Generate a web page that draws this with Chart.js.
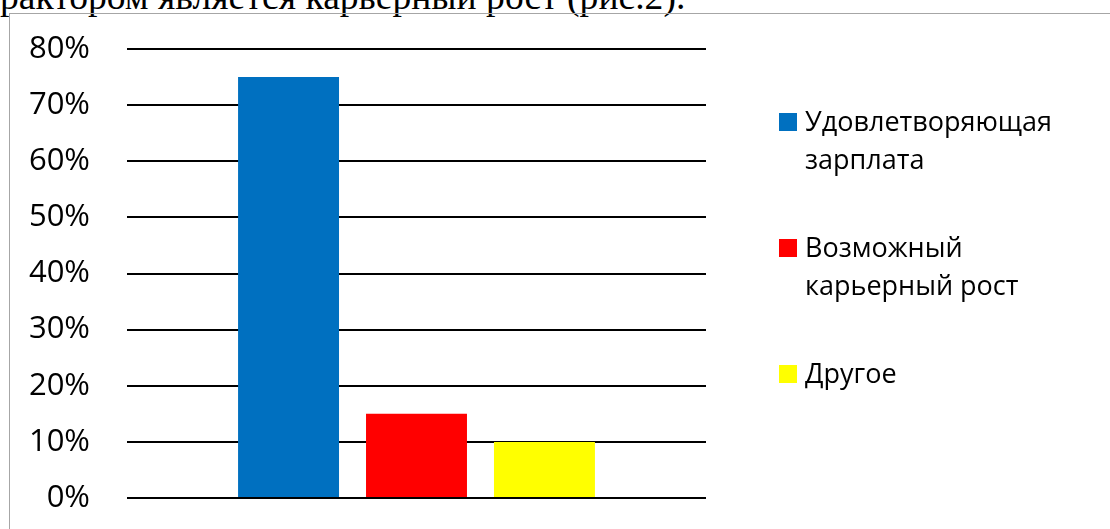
<!DOCTYPE html>
<html>
<head>
<meta charset="utf-8">
<script src="https://cdn.jsdelivr.net/npm/chart.js@4.4.1/dist/chart.umd.min.js"></script>
<style>
  html, body { margin: 0; padding: 0; background: #fff; width: 1110px; height: 529px; overflow: hidden; }
  #caption { position: absolute; left: 0px; top: -22px; font-family: "Liberation Serif", "DejaVu Serif", serif; font-size: 37.6px; line-height: 37.6px; color: #000; white-space: nowrap; }
  #frame { position: absolute; left: 9px; top: 13px; width: 1101px; height: 516px; border-top: 1px solid #a6a6a6; border-left: 1px solid #a6a6a6; box-sizing: border-box; }
  #c { position: absolute; left: 10px; top: 14px; }
</style>
</head>
<body>
<div id="caption">рактором является карьерный рост (рис.2).</div>
<div id="frame"></div>
<canvas id="c" width="1100" height="515"></canvas>
<script>
// ---- data ----
const categories = [''];
const seriesNames = ['Удовлетворяющая\nзарплата', 'Возможный\nкарьерный рост', 'Другое'];
const seriesValues = [[75], [15], [10]];
const seriesColors = ['#0070C0', '#FF0000', '#FFFF00'];
const yTickValues = [0, 10, 20, 30, 40, 50, 60, 70, 80];
const yTickLabels = ['0%', '10%', '20%', '30%', '40%', '50%', '60%', '70%', '80%'];

const legendPlugin = {
  id: 'sideLegend',
  afterDraw(chart) {
    const ctx = chart.ctx;
    const fontSize = 27;
    const lineH = 38;
    const gapBetween = 50;
    const boxSize = 18;
    const boxX = 769;
    const textX = 795;
    let baseline = 117;
    ctx.save();
    ctx.font = fontSize + 'px "Open Sans", "Noto Sans", sans-serif';
    ctx.textBaseline = 'alphabetic';
    ctx.textAlign = 'left';
    chart.data.datasets.forEach(ds => {
      const lines = ds.label.split('\n');
      ctx.fillStyle = ds.backgroundColor;
      ctx.fillRect(boxX, baseline - boxSize, boxSize, boxSize);
      ctx.fillStyle = '#000';
      lines.forEach((ln, i) => ctx.fillText(ln, textX, baseline + i * lineH));
      baseline += lines.length * lineH + gapBetween;
    });
    ctx.restore();
  }
};

new Chart(document.getElementById('c'), {
  type: 'bar',
  data: {
    labels: categories,
    datasets: seriesNames.map((name, i) => ({
      label: name,
      data: seriesValues[i],
      backgroundColor: seriesColors[i],
      borderWidth: 0,
      categoryPercentage: 0.663,
      barPercentage: 0.789
    }))
  },
  options: {
    responsive: false,
    animation: false,
    events: [],
    layout: { padding: { top: 35, bottom: 31, left: 0, right: 404 } },
    plugins: { legend: { display: false }, tooltip: { enabled: false } },
    scales: {
      x: { display: false },
      y: {
        min: 0, max: 80,
        afterBuildTicks(scale) { scale.ticks = yTickValues.map(v => ({ value: v })); },
        afterFit(scale) { scale.width = 117; scale.paddingTop = 0; scale.paddingBottom = 0; },
        border: { display: false },
        grid: { color: '#000', lineWidth: 2, drawTicks: false },
        ticks: {
          padding: 37,
          color: '#000',
          font: { family: '"Open Sans", "Noto Sans", sans-serif', size: 31 },
          callback: (v) => yTickLabels[yTickValues.indexOf(v)]
        }
      }
    }
  },
  plugins: [legendPlugin]
});
</script>
</body>
</html>
